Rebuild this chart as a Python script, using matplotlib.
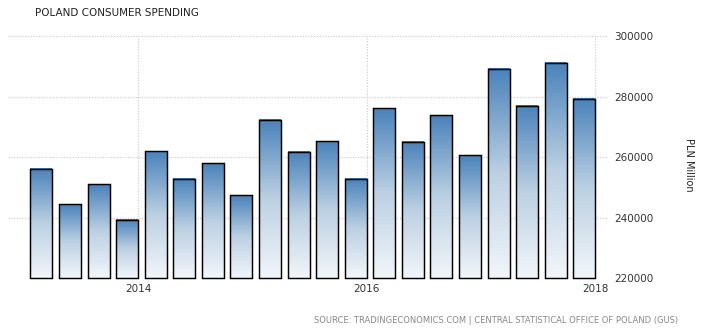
import numpy as np
import matplotlib
matplotlib.use("Agg")
import matplotlib.pyplot as plt
from matplotlib.colors import LinearSegmentedColormap

quarters = ["2013Q1", "2013Q2", "2013Q3", "2013Q4",
            "2014Q1", "2014Q2", "2014Q3", "2014Q4",
            "2015Q1", "2015Q2", "2015Q3", "2015Q4",
            "2016Q1", "2016Q2", "2016Q3", "2016Q4",
            "2017Q1", "2017Q2", "2017Q3", "2017Q4"]
spending = [256000, 244400, 251000, 239150,
            261900, 252700, 257950, 247400,
            272250, 261600, 265200, 252700,
            276100, 264900, 273800, 260600,
            289000, 276800, 291000, 279100]
year_labels = ["2014", "2016", "2018"]
year_after_bar = [3, 11, 19]
y_ticks = [220000, 240000, 260000, 280000, 300000]

fig = plt.figure(figsize=(7.05, 3.30), dpi=100)
ax = fig.add_axes([0.012, 0.1567, 0.85, 0.7343])

ymin = y_ticks[0]
x = np.arange(len(spending))
width = 0.77
heights = np.array(spending) - ymin
bars = ax.bar(x, heights, bottom=ymin, width=width, facecolor="none",
              edgecolor="black", linewidth=1.05, zorder=3, clip_on=False)
for b in bars:
    b.set_joinstyle("miter")

cmap = LinearSegmentedColormap.from_list("tegrad", ["#f2f6fa", "#bcd0e3", "#4a82ba"])
grad = np.linspace(0, 1, 256).reshape(-1, 1)
for b in bars:
    x0 = b.get_x()
    x1 = x0 + b.get_width()
    y0 = b.get_y()
    y1 = y0 + b.get_height()
    ax.imshow(grad, cmap=cmap, origin="lower", aspect="auto",
              extent=(x0, x1, y0, y1), zorder=2, interpolation="nearest")

ax.set_xlim(-1.155, 19.82)
ax.set_ylim(220000, 300000)

tick_pos = [i + width / 2 for i in year_after_bar]
ax.set_xticks(tick_pos)
ax.set_xticklabels(year_labels, fontsize=7.5, color="#333333")
ax.set_yticks(y_ticks)
ax.set_yticklabels([str(v) for v in y_ticks], fontsize=7.5, color="#333333")
ax.yaxis.tick_right()
ax.tick_params(axis="both", length=0, pad=4)
ax.tick_params(axis="y", pad=5)

ax.grid(True, color="#c8c8c8", linestyle=(0, (1, 1.5)), linewidth=0.8, zorder=0)
ax.set_axisbelow(True)
for s in ax.spines.values():
    s.set_visible(False)

fig.text(0.050, 0.962, "POLAND CONSUMER SPENDING", fontsize=7.5, color="#222222",
         ha="left", va="center")
fig.text(0.978, 0.50, "PLN Million", fontsize=7, color="#222222", rotation=270,
         ha="center", va="center")
fig.text(0.962, 0.030,
         "SOURCE: TRADINGECONOMICS.COM | CENTRAL STATISTICAL OFFICE OF POLAND (GUS)",
         fontsize=6, color="#888888", ha="right", va="center")

fig.savefig("out.png", dpi=100)
